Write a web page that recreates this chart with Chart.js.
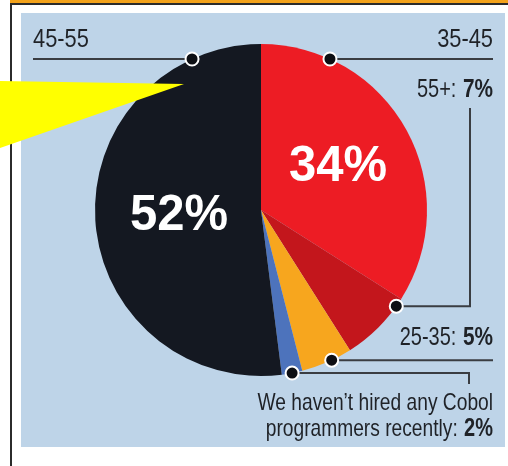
<!DOCTYPE html>
<html>
<head>
<meta charset="utf-8">
<script src="https://cdn.jsdelivr.net/npm/chart.js@4.4.0/dist/chart.umd.min.js"></script>
<style>
  html, body { margin: 0; padding: 0; background: #ffffff; }
  #wrap { position: relative; width: 508px; height: 466px; }
</style>
</head>
<body>
<div id="wrap"><canvas id="chart" width="508" height="466"></canvas></div>
<script>
// Age groups, clockwise from 12 o'clock
const labels = ['35-45', '55+', '25-35', 'None hired', '45-55'];
const shares = [34, 7, 5, 2, 52];
const colors = ['#ed1c24', '#c3161c', '#f7a61e', '#4d73bc', '#141821'];

const FONT = '"Liberation Sans", Arial, sans-serif';
const INK = '#1f2227';
const SQUEEZE = 0.8; // the original uses a condensed face

// point on outer edge of a slice, t = fraction through the slice
function edgePoint(arc, t) {
    const p = arc.getProps(['x', 'y', 'startAngle', 'endAngle', 'outerRadius'], true);
    const a = p.startAngle + t * (p.endAngle - p.startAngle);
    return { x: p.x + p.outerRadius * Math.cos(a), y: p.y + p.outerRadius * Math.sin(a) };
}

function dot(ctx, x, y) {
    ctx.beginPath();
    ctx.arc(x, y, 6.5, 0, Math.PI * 2);
    ctx.fillStyle = '#0d0f14';
    ctx.fill();
    ctx.lineWidth = 2;
    ctx.strokeStyle = '#ffffff';
    ctx.stroke();
}

function line(ctx, pts) {
    ctx.beginPath();
    ctx.moveTo(pts[0][0], pts[0][1]);
    for (let i = 1; i < pts.length; i++) ctx.lineTo(pts[i][0], pts[i][1]);
    ctx.lineWidth = 2;
    ctx.strokeStyle = '#3a3d42';
    ctx.stroke();
}

// condensed text: align is 'left', 'right' or 'center' at x
function text(ctx, str, x, y, font, color, align, squeeze) {
    const s = squeeze || SQUEEZE;
    ctx.save();
    ctx.font = font;
    ctx.fillStyle = color;
    ctx.textBaseline = 'middle';
    ctx.textAlign = 'left';
    const w = ctx.measureText(str).width * s;
    let x0 = x;
    if (align === 'right') x0 = x - w;
    if (align === 'center') x0 = x - w / 2;
    ctx.translate(x0, y);
    ctx.scale(s, 1);
    ctx.fillText(str, 0, 0);
    ctx.restore();
    return w;
}

function width(ctx, str, font) {
    ctx.save();
    ctx.font = font;
    const w = ctx.measureText(str).width * SQUEEZE;
    ctx.restore();
    return w;
}

// plain prefix + bold value, right aligned at x
function richRight(ctx, x, y, plain, bold, size) {
    const fb = 'bold ' + (size + 1) + 'px ' + FONT;
    const fp = size + 'px ' + FONT;
    const wb = width(ctx, bold, fb);
    text(ctx, bold, x, y, fb, INK, 'right');
    text(ctx, plain, x - wb - 1, y, fp, INK, 'right');
}

const backdrop = {
    id: 'backdrop',
    beforeDraw(chart) {
        const ctx = chart.ctx;
        ctx.save();
        ctx.fillStyle = '#ffffff';
        ctx.fillRect(0, 0, 508, 466);
        // frame
        ctx.fillStyle = '#f3a21a';
        ctx.fillRect(10, 0, 498, 3);
        ctx.fillStyle = '#2b2b2b';
        ctx.fillRect(10, 3, 498, 2);
        ctx.fillRect(10, 3, 2, 463);
        // panel
        ctx.fillStyle = '#bed4e8';
        ctx.fillRect(21, 13, 484, 434);
        ctx.restore();
    }
};

const callouts = {
    id: 'callouts',
    afterDatasetsDraw(chart) {
        const ctx = chart.ctx;
        const arcs = chart.getDatasetMeta(0).data;
        const c = arcs[0].getProps(['x', 'y', 'outerRadius'], true);
        const r = c.outerRadius;
        ctx.save();

        // big labels in slices
        const big = 'bold 50px ' + FONT;
        text(ctx, shares[0] + '%', c.x + 77, c.y - 43, big, '#ffffff', 'center', 0.98);
        text(ctx, shares[4] + '%', c.x - 82, c.y + 6, big, '#ffffff', 'center', 0.98);

        // top line, broken by the pie
        const topY = 59;
        const dx = Math.sqrt(r * r - (c.y - topY) * (c.y - topY));
        line(ctx, [[33, topY], [c.x - dx, topY]]);
        line(ctx, [[c.x + dx, topY], [493, topY]]);
        dot(ctx, c.x - dx, topY);
        dot(ctx, c.x + dx, topY);

        const lab = '26px ' + FONT;
        text(ctx, labels[4], 33, 40, lab, INK, 'left', 0.84);
        text(ctx, labels[0], 493, 40, lab, INK, 'right', 0.84);

        // 55+
        const p1 = edgePoint(arcs[1], 0.12);
        line(ctx, [[p1.x, p1.y], [470, p1.y], [470, 108]]);
        dot(ctx, p1.x, p1.y);
        richRight(ctx, 493, 90, labels[1] + ': ', shares[1] + '%', 25);

        // 25-35
        const p2 = edgePoint(arcs[2], 0.4);
        line(ctx, [[p2.x, p2.y], [493, p2.y]]);
        dot(ctx, p2.x, p2.y);
        richRight(ctx, 493, 338, labels[2] + ': ', shares[2] + '%', 25);

        // no hires
        const p3 = edgePoint(arcs[3], 0.5);
        line(ctx, [[p3.x, p3.y], [469, p3.y], [469, 384]]);
        dot(ctx, p3.x, p3.y);
        text(ctx, 'We haven\u2019t hired any Cobol', 493, 403, '24px ' + FONT, INK, 'right');
        richRight(ctx, 493, 429, 'programmers recently: ', shares[3] + '%', 24);

        // yellow pointer
        ctx.beginPath();
        ctx.moveTo(0, 81);
        ctx.lineTo(184, 84);
        ctx.lineTo(0, 148);
        ctx.closePath();
        ctx.fillStyle = '#ffff00';
        ctx.fill();

        ctx.restore();
    }
};

new Chart(document.getElementById('chart'), {
    type: 'pie',
    data: {
        labels: labels,
        datasets: [{
            data: shares,
            backgroundColor: colors,
            borderWidth: 0
        }]
    },
    options: {
        responsive: false,
        animation: false,
        layout: { padding: { left: 95, right: 81, top: 44, bottom: 90 } },
        plugins: {
            legend: { display: false },
            tooltip: { enabled: false }
        }
    },
    plugins: [backdrop, callouts]
});
</script>
</body>
</html>
